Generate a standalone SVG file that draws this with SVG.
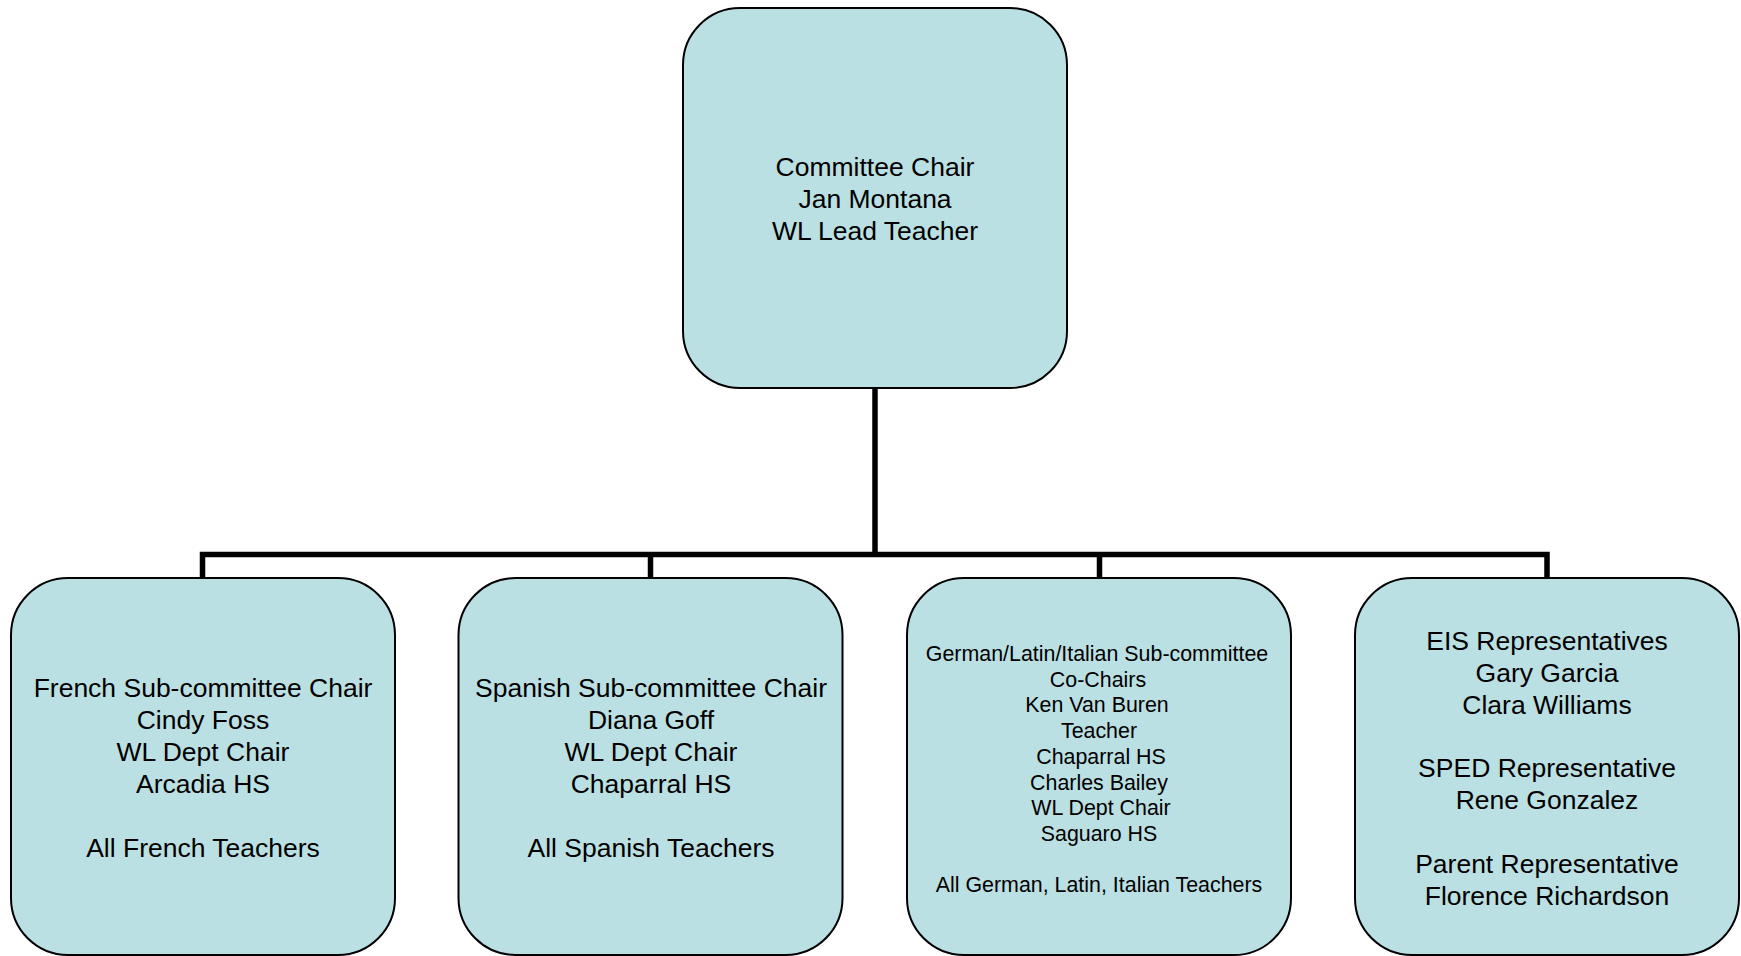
<svg xmlns="http://www.w3.org/2000/svg" width="1741" height="956" viewBox="0 0 1741 956">
<style>
.box{fill:#BBE0E3;stroke:#000;stroke-width:2}
.t{font-family:"Liberation Sans",Arial,sans-serif;font-size:26.5px;fill:#000;text-anchor:middle}
.s{font-family:"Liberation Sans",Arial,sans-serif;font-size:21.4px;fill:#000;text-anchor:middle}
.c{fill:none;stroke:#000;stroke-width:5.5;stroke-linejoin:miter;stroke-linecap:butt}
</style>
<rect x="0" y="0" width="1741" height="956" fill="#fff"/>
<g id="connectors">
<path class="c" d="M875,388 V554.5"/>
<path class="c" d="M202.5,578 V554.5 H1547 V578"/>
<path class="c" d="M650.5,554.5 V578"/>
<path class="c" d="M1099.5,554.5 V578"/>
</g>
<g id="chair">
<rect class="box" x="683" y="8" width="384" height="380" rx="57" ry="57"/>
<text class="t" x="875" y="176">Committee Chair</text>
<text class="t" x="875" y="208">Jan Montana</text>
<text class="t" x="875" y="240">WL Lead Teacher</text>
</g>
<g id="french">
<rect class="box" x="11" y="578" width="384" height="377" rx="57" ry="57"/>
<text class="t" x="203" y="697">French Sub-committee Chair</text>
<text class="t" x="203" y="729">Cindy Foss</text>
<text class="t" x="203" y="761">WL Dept Chair</text>
<text class="t" x="203" y="793">Arcadia HS</text>
<text class="t" x="203" y="857">All French Teachers</text>
</g>
<g id="spanish">
<rect class="box" x="458.5" y="578" width="384" height="377" rx="57" ry="57"/>
<text class="t" x="651" y="697">Spanish Sub-committee Chair</text>
<text class="t" x="651" y="729">Diana Goff</text>
<text class="t" x="651" y="761">WL Dept Chair</text>
<text class="t" x="651" y="793">Chaparral HS</text>
<text class="t" x="651" y="857">All Spanish Teachers</text>
</g>
<g id="german">
<rect class="box" x="907" y="578" width="384" height="377" rx="57" ry="57"/>
<text class="s" x="1097" y="661">German/Latin/Italian Sub-committee</text>
<text class="s" x="1098" y="686.7">Co-Chairs</text>
<text class="s" x="1097" y="712.4">Ken Van Buren</text>
<text class="s" x="1099" y="738.1">Teacher</text>
<text class="s" x="1101" y="763.8">Chaparral HS</text>
<text class="s" x="1099" y="789.5">Charles Bailey</text>
<text class="s" x="1101" y="815.2">WL Dept Chair</text>
<text class="s" x="1099" y="840.9">Saguaro HS</text>
<text class="s" x="1099" y="892.3">All German, Latin, Italian Teachers</text>
</g>
<g id="representatives">
<rect class="box" x="1355" y="578" width="384" height="377" rx="57" ry="57"/>
<text class="t" x="1547" y="650">EIS Representatives</text>
<text class="t" x="1547" y="682">Gary Garcia</text>
<text class="t" x="1547" y="714">Clara Williams</text>
<text class="t" x="1547" y="777">SPED Representative</text>
<text class="t" x="1547" y="809">Rene Gonzalez</text>
<text class="t" x="1547" y="873">Parent Representative</text>
<text class="t" x="1547" y="905">Florence Richardson</text>
</g>
</svg>
